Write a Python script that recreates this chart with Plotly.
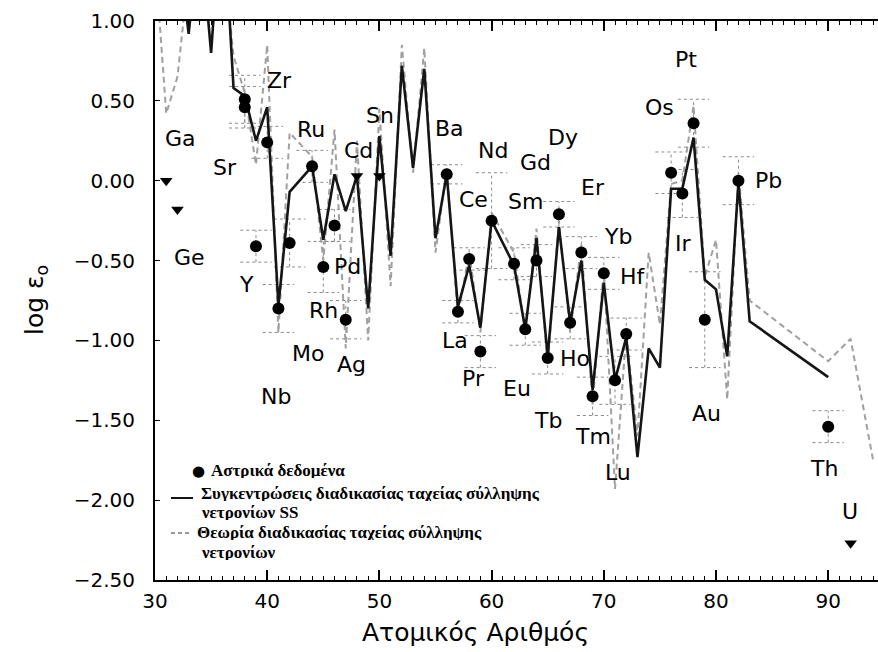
import plotly.graph_objects as go

# ---------------- data ----------------
# Solar-system r-process abundances (solid line)
ss_z = [31, 32, 33, 34, 35, 36, 37, 38, 39, 40, 41, 42, 44, 45, 46, 47, 48, 49, 50, 51,
        52, 53, 54, 55, 56, 57, 58, 59, 60, 62, 63, 64, 65, 66, 67, 68, 69, 70, 71, 72,
        73, 74, 75, 76, 77, 78, 79, 80, 81, 82, 83, 90]
ss_v = [1.5, 1.5, 0.92, 1.6, 0.80, 1.8, 0.58, 0.53, 0.25, 0.46, -0.78, -0.07, 0.09, -0.37, 0.04, -0.19, 0.03, -0.80, 0.28, -0.47,
        0.72, 0.08, 0.70, -0.36, 0.04, -0.79, -0.53, -0.92, -0.25, -0.53, -0.93, -0.36, -1.10, -0.29, -0.89, -0.50, -1.31, -0.64, -1.25, -0.98,
        -1.73, -1.05, -1.17, -0.05, -0.05, 0.27, -0.62, -0.68, -1.10, -0.01, -0.88, -1.23]

# r-process theory (dashed line)
th_z = [30, 31, 32, 33, 34, 35, 36, 37, 38, 39, 40, 41, 42, 44, 45, 46, 47, 48, 49, 50,
        51, 52, 53, 54, 55, 56, 57, 58, 59, 60, 62, 63, 64, 65, 66, 67, 68, 69, 70, 71,
        72, 73, 74, 75, 76, 77, 78, 79, 80, 81, 82, 83, 90, 92, 94]
th_v = [1.4, 0.42, 0.65, 1.3, 1.0, 1.3, 1.5, 0.78, 0.55, 0.10, 0.85, -0.95, 0.30, 0.15, -0.50, 0.32, -1.05, 0.25, -1.00, 0.45,
        -0.66, 0.85, 0.05, 0.83, -0.45, 0.08, -0.85, -0.45, -0.95, -0.20, -0.45, -0.95, -0.30, -1.15, -0.25, -0.95, -0.40, -1.40, -0.55, -1.93,
        -0.95, -1.60, -0.45, -0.90, -0.02, 0.00, 0.47, -0.60, -0.37, -1.37, 0.05, -0.75, -1.13, -0.99, -1.75]

# stellar data (filled circles with error bars)
obs_z = [38, 38, 39, 40, 41, 42, 44, 45, 46, 47, 56, 57, 58, 59, 60, 62, 63, 64, 65, 66,
         67, 68, 69, 70, 71, 72, 76, 77, 78, 79, 82, 90]
obs_v = [0.51, 0.46, -0.41, 0.24, -0.80, -0.39, 0.09, -0.54, -0.28, -0.87, 0.04, -0.82, -0.49, -1.07, -0.25, -0.52, -0.93, -0.50, -1.11, -0.21,
         -0.89, -0.45, -1.35, -0.58, -1.25, -0.96, 0.05, -0.08, 0.36, -0.87, 0.00, -1.54]
obs_err = [0.15, 0.13, 0.10, 0.10, 0.15, 0.15, 0.10, 0.16, 0.10, 0.12, 0.06, 0.07, 0.07, 0.10, 0.30, 0.10, 0.10, 0.10, 0.10, 0.08,
           0.10, 0.10, 0.12, 0.10, 0.15, 0.10, 0.13, 0.15, 0.15, 0.30, 0.15, 0.10]

# upper limits (down triangles)
lim_z = [31, 32, 48, 50, 92]
lim_v = [0.00, -0.18, 0.03, 0.03, -2.27]

# element labels: (symbol, atomic number position, log eps position)
labels = [("Ga", 32.23, 0.265), ("Ge", 33.06, -0.48), ("Sr", 36.24, 0.08), ("Y", 38.17, -0.65),
          ("Zr", 41.14, 0.63), ("Nb", 40.78, -1.35), ("Mo", 43.66, -1.08), ("Ru", 43.9, 0.32),
          ("Rh", 45.0, -0.81), ("Pd", 47.2, -0.54), ("Ag", 47.53, -1.15), ("Cd", 48.12, 0.19),
          ("Sn", 50.05, 0.41), ("Ba", 56.29, 0.33), ("La", 56.74, -1.0), ("Ce", 58.43, -0.12),
          ("Pr", 58.37, -1.24), ("Nd", 60.15, 0.19), ("Sm", 62.98, -0.13), ("Eu", 62.24, -1.30),
          ("Gd", 63.87, 0.115), ("Tb", 65.05, -1.50), ("Dy", 66.34, 0.27), ("Ho", 67.43, -1.11),
          ("Er", 69.01, -0.04), ("Tm", 69.06, -1.60), ("Yb", 71.29, -0.35), ("Lu", 71.29, -1.83),
          ("Hf", 72.63, -0.60), ("Os", 74.95, 0.46), ("Ir", 77.09, -0.39), ("Pt", 77.33, 0.76),
          ("Au", 79.17, -1.46), ("Pb", 84.66, 0.0), ("Th", 89.63, -1.80), ("U", 91.95, -2.07)]

x_ticks = [30, 40, 50, 60, 70, 80, 90]
y_ticks = [1.0, 0.5, 0.0, -0.5, -1.0, -1.5, -2.0, -2.5]

# ---------------- figure ----------------
W, H = 878, 652
ML, MR, MT, MB = 155, 0, 21, 72
PW, PH = W - ML - MR, H - MT - MB


def px(xp, yp):
    return (xp - ML) / PW, (H - MB - yp) / PH


SANS = "DejaVu Sans"
SERIF = "Liberation Serif"

fig = go.Figure()

cap = 1.4
ex, ey = [], []
for z, v, e in zip(obs_z, obs_v, obs_err):
    ex += [z, z, None, z - cap, z + cap, None, z - cap, z + cap, None]
    ey += [v - e, v + e, None, v + e, v + e, None, v - e, v - e, None]
fig.add_trace(go.Scatter(x=ex, y=ey, mode="lines", showlegend=False, hoverinfo="skip",
                         line=dict(color="#8a8a8a", width=1, dash="dot")))

fig.add_trace(go.Scatter(x=th_z, y=th_v, mode="lines", showlegend=False,
                         line=dict(color="#a0a0a0", width=2, dash="6px,4px")))
fig.add_trace(go.Scatter(x=ss_z, y=ss_v, mode="lines", showlegend=False,
                         line=dict(color="#151515", width=2.6)))
fig.add_trace(go.Scatter(x=obs_z, y=obs_v, mode="markers", showlegend=False,
                         marker=dict(color="black", size=12)))
fig.add_trace(go.Scatter(x=lim_z, y=lim_v, mode="markers", showlegend=False,
                         marker=dict(color="black", size=11, symbol="triangle-down")))

annotations = []
for name, xz, yv in labels:
    annotations.append(dict(x=xz, y=yv, xref="x", yref="y", text=name, showarrow=False,
                            font=dict(family=SANS, size=22, color="black"),
                            xanchor="center", yanchor="middle"))

# axis titles
ax, ay = px(475, 632)
annotations.append(dict(x=ax, y=ay, xref="paper", yref="paper", text="Ατομικός Αριθμός",
                        showarrow=False, font=dict(family=SANS, size=25, color="black"),
                        xanchor="center", yanchor="middle"))
ax, ay = px(36, 300)
annotations.append(dict(x=ax, y=ay, xref="paper", yref="paper", text="log ε<sub>ο</sub>",
                        showarrow=False, textangle=-90, font=dict(family=SANS, size=25, color="black"),
                        xanchor="center", yanchor="middle"))

# legend (drawn manually)
lg_font = dict(family=SERIF, size=17, color="black")
legend_lines = [("Αστρικά δεδομένα", 209, 471),
                ("Συγκεντρώσεις διαδικασίας ταχείας σύλληψης", 199, 493),
                ("νετρονίων SS", 199, 512),
                ("Θεωρία διαδικασίας ταχείας σύλληψης", 195, 532),
                ("νετρονίων", 199, 552)]
for t, lx, ly in legend_lines:
    ax, ay = px(lx, ly)
    annotations.append(dict(x=ax, y=ay, xref="paper", yref="paper", text="<b>" + t + "</b>",
                            showarrow=False, font=lg_font, xanchor="left", yanchor="middle",
                            height=15))
ax, ay = px(198, 471)
annotations.append(dict(x=ax, y=ay, xref="paper", yref="paper", text="●", showarrow=False,
                        font=dict(family=SANS, size=15, color="black"), xanchor="center", yanchor="middle"))

shapes = []
x0, y0 = px(171, 498)
x1, _ = px(193, 498)
shapes.append(dict(type="line", xref="paper", yref="paper", x0=x0, x1=x1, y0=y0, y1=y0,
                   line=dict(color="#151515", width=2)))
x0, y0 = px(171, 533)
x1, _ = px(191, 533)
shapes.append(dict(type="line", xref="paper", yref="paper", x0=x0, x1=x1, y0=y0, y1=y0,
                   line=dict(color="#777777", width=1.5, dash="4px,3px")))

fig.update_layout(
    width=W, height=H,
    margin=dict(l=ML, r=MR, t=MT, b=MB, pad=0),
    paper_bgcolor="white", plot_bgcolor="white",
    showlegend=False,
    annotations=annotations,
    shapes=shapes,
    xaxis=dict(range=[30, 30 + PW / 11.22], showline=True, linecolor="black", linewidth=2,
               mirror="ticks", ticks="inside", ticklen=10, tickwidth=1.5, tickcolor="black",
               tickvals=x_ticks, ticktext=[str(v) for v in x_ticks],
               minor=dict(ticks="inside", ticklen=4, dtick=1, tickcolor="black", tickwidth=1),
               showgrid=False, zeroline=False, ticklabelstandoff=2,
               tickfont=dict(family=SANS, size=20, color="black")),
    yaxis=dict(range=[-2.5, 1.0], showline=True, linecolor="black", linewidth=2,
               ticks="inside", ticklen=5, tickwidth=1, tickcolor="black",
               tickvals=y_ticks, tickformat=".2f",
               showgrid=False, zeroline=False, ticklabelstandoff=14,
               tickfont=dict(family=SANS, size=20, color="black")),
)

fig.write_html("out.html")
